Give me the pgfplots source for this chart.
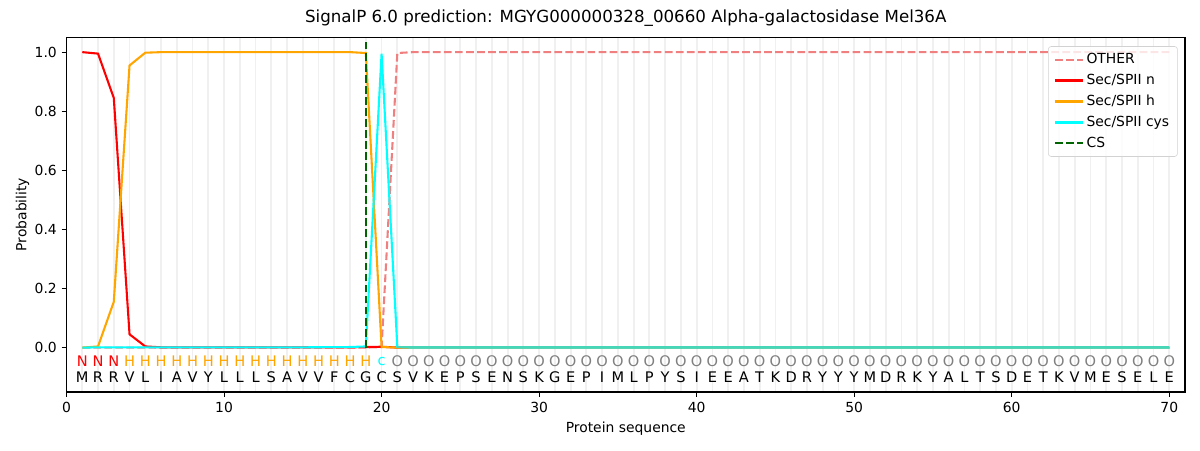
\documentclass[border=0pt]{standalone}
\usepackage{pgfplots}
\pgfplotsset{compat=1.18}
\usepackage{fontspec}
\setmainfont{DejaVu Sans}
\definecolor{othercol}{RGB}{240,128,128}
\definecolor{hcol}{RGB}{255,165,0}
\definecolor{cyancol}{RGB}{0,255,255}
\definecolor{cscol}{RGB}{0,100,0}
\definecolor{bottomcol}{RGB}{72,214,184}
\definecolor{gridcol}{RGB}{240,240,240}
\definecolor{ocol}{RGB}{128,128,128}
\begin{document}
\begin{tikzpicture}
\useasboundingbox (-47.9pt,-41.8pt) rectangle (816.1pt,282.2pt);
\begin{axis}[
  at={(0pt,0pt)}, anchor=south west,
  scale only axis, width=805.3pt, height=255.3pt,
  xmin=0, xmax=71, ymin=-0.15, ymax=1.05,
  xtick={0,10,20,30,40,50,60,70},
  ytick={0,0.2,0.4,0.6,0.8,1.0},
  minor xtick={1,2,...,70},
  minor tick length=0pt,
  xminorgrids=true,
  minor grid style={gridcol, line width=1.3pt},
  tick align=outside, major tick length=3.5pt,
  every tick/.style={black, line width=0.8pt},
  axis line style={line width=0.8pt},
  xtick pos=bottom, ytick pos=left,
  /pgf/number format/assume math mode=true,
  yticklabel style={/pgf/number format/.cd, fixed, fixed zerofill, precision=1},
  ticklabel style={font=\fontsize{10}{12}\selectfont},
  xlabel={Protein sequence}, ylabel={Probability},
  label style={font=\fontsize{10}{12}\selectfont},
  ylabel style={yshift=-3pt},
  title={SignalP 6.0 prediction: MGYG000000328\_00660 Alpha-galactosidase Mel36A},
  title style={font=\fontsize{12}{14}\selectfont, yshift=-2pt},
  legend style={at={(0.9935,0.975)}, anchor=north east, draw=gray!35, rounded corners=2pt, fill=white, fill opacity=0.8, text opacity=1, font=\fontsize{10}{12}\selectfont, row sep=2.1pt, inner xsep=4pt, inner ysep=3pt},
  legend cell align=left,
  legend image code/.code={\draw[#1] (0pt,0pt) -- (20pt,0pt);},
  clip=false,
]
\addplot[othercol, line width=1.5pt, dash pattern=on 5.55pt off 2.4pt] coordinates {
(1,0)(2,0)(3,0)(4,0)(5,0)(6,0)(7,0)(8,0)(9,0)(10,0)(11,0)(12,0)(13,0)(14,0)(15,0)(16,0)(17,0)(18,0)(19,0)(20,0.002)(21,0.997)(22,1)(23,1)(24,1)(25,1)(30,1)(40,1)(50,1)(60,1)(70,1)};
\addlegendentry{OTHER}
\addplot[red, line width=1.5pt] coordinates {
(1,1.0)(2,0.995)(3,0.845)(4,0.045)(5,0.004)(6,0.001)(7,0.001)(8,0.001)(9,0.001)(10,0.001)(11,0.001)(12,0.001)(13,0.001)(14,0.001)(15,0.001)(16,0.001)(17,0.001)(18,0.001)(19,0.002)(20,0.003)(21,0)(22,0)(30,0)(40,0)(50,0)(60,0)(70,0)};
\addlegendentry{Sec/SPII n}
\addplot[hcol, line width=1.5pt] coordinates {
(1,0)(2,0.004)(3,0.155)(4,0.955)(5,0.998)(6,1)(7,1)(8,1)(9,1)(10,1)(11,1)(12,1)(13,1)(14,1)(15,1)(16,1)(17,1)(18,1)(19,0.997)(20,0.002)(21,0)(22,0)(30,0)(40,0)(50,0)(60,0)(70,0)};
\addlegendentry{Sec/SPII h}
\addplot[cyancol, line width=1.5pt] coordinates {
(1,0)(2,0.001)(3,0.001)(4,0.001)(5,0.001)(10,0.001)(15,0.001)(18,0.002)(19,0.004)(20,0.995)(21,0.002)(22,0)(30,0)(40,0)(50,0)(60,0)(70,0)};
\addlegendentry{Sec/SPII cys}
\addplot[cscol, line width=1.5pt, dash pattern=on 5.55pt off 2.4pt] coordinates {(19,0)(19,1.04)};
\addlegendentry{CS}
\addplot[bottomcol, line width=1.5pt, forget plot] coordinates {(21,0.001)(30,0.001)(40,0.001)(50,0.001)(60,0.001)(70,0.001)};
% sequence letters
\addplot[draw=none, mark=none, forget plot, nodes near coords, point meta=explicit symbolic,
  nodes near coords style={anchor=center, inner sep=0pt, text=black, font=\fontsize{10.5}{12}\selectfont}]
  table[x=x, y=y, meta=l] {
x y l
1 -0.1 M
2 -0.1 R
3 -0.1 R
4 -0.1 V
5 -0.1 L
6 -0.1 I
7 -0.1 A
8 -0.1 V
9 -0.1 Y
10 -0.1 L
11 -0.1 L
12 -0.1 L
13 -0.1 S
14 -0.1 A
15 -0.1 V
16 -0.1 V
17 -0.1 F
18 -0.1 C
19 -0.1 G
20 -0.1 C
21 -0.1 S
22 -0.1 V
23 -0.1 K
24 -0.1 E
25 -0.1 P
26 -0.1 S
27 -0.1 E
28 -0.1 N
29 -0.1 S
30 -0.1 K
31 -0.1 G
32 -0.1 E
33 -0.1 P
34 -0.1 I
35 -0.1 M
36 -0.1 L
37 -0.1 P
38 -0.1 Y
39 -0.1 S
40 -0.1 I
41 -0.1 E
42 -0.1 E
43 -0.1 A
44 -0.1 T
45 -0.1 K
46 -0.1 D
47 -0.1 R
48 -0.1 Y
49 -0.1 Y
50 -0.1 Y
51 -0.1 M
52 -0.1 D
53 -0.1 R
54 -0.1 K
55 -0.1 Y
56 -0.1 A
57 -0.1 L
58 -0.1 T
59 -0.1 S
60 -0.1 D
61 -0.1 E
62 -0.1 T
63 -0.1 K
64 -0.1 V
65 -0.1 M
66 -0.1 E
67 -0.1 S
68 -0.1 E
69 -0.1 L
70 -0.1 E
};
% region labels
\addplot[draw=none, mark=none, forget plot, nodes near coords, point meta=explicit symbolic,
  nodes near coords style={anchor=center, inner sep=0pt, text=red, font=\fontsize{10.5}{12}\selectfont}]
  table[x=x, y=y, meta=l] {
x y l
1 -0.046 N
2 -0.046 N
3 -0.046 N
};
\addplot[draw=none, mark=none, forget plot, nodes near coords, point meta=explicit symbolic,
  nodes near coords style={anchor=center, inner sep=0pt, text=hcol, font=\fontsize{10.5}{12}\selectfont}]
  table[x=x, y=y, meta=l] {
x y l
4 -0.046 H
5 -0.046 H
6 -0.046 H
7 -0.046 H
8 -0.046 H
9 -0.046 H
10 -0.046 H
11 -0.046 H
12 -0.046 H
13 -0.046 H
14 -0.046 H
15 -0.046 H
16 -0.046 H
17 -0.046 H
18 -0.046 H
19 -0.046 H
};
\addplot[draw=none, mark=none, forget plot, nodes near coords, point meta=explicit symbolic,
  nodes near coords style={anchor=center, inner sep=0pt, text=cyancol, font=\fontsize{10.5}{12}\selectfont}]
  table[x=x, y=y, meta=l] {
x y l
20 -0.046 c
};
\addplot[draw=none, mark=none, forget plot, nodes near coords, point meta=explicit symbolic,
  nodes near coords style={anchor=center, inner sep=0pt, text=ocol, font=\fontsize{10.5}{12}\selectfont}]
  table[x=x, y=y, meta=l] {
x y l
21 -0.046 O
22 -0.046 O
23 -0.046 O
24 -0.046 O
25 -0.046 O
26 -0.046 O
27 -0.046 O
28 -0.046 O
29 -0.046 O
30 -0.046 O
31 -0.046 O
32 -0.046 O
33 -0.046 O
34 -0.046 O
35 -0.046 O
36 -0.046 O
37 -0.046 O
38 -0.046 O
39 -0.046 O
40 -0.046 O
41 -0.046 O
42 -0.046 O
43 -0.046 O
44 -0.046 O
45 -0.046 O
46 -0.046 O
47 -0.046 O
48 -0.046 O
49 -0.046 O
50 -0.046 O
51 -0.046 O
52 -0.046 O
53 -0.046 O
54 -0.046 O
55 -0.046 O
56 -0.046 O
57 -0.046 O
58 -0.046 O
59 -0.046 O
60 -0.046 O
61 -0.046 O
62 -0.046 O
63 -0.046 O
64 -0.046 O
65 -0.046 O
66 -0.046 O
67 -0.046 O
68 -0.046 O
69 -0.046 O
70 -0.046 O
};
\end{axis}
\end{tikzpicture}
\end{document}
